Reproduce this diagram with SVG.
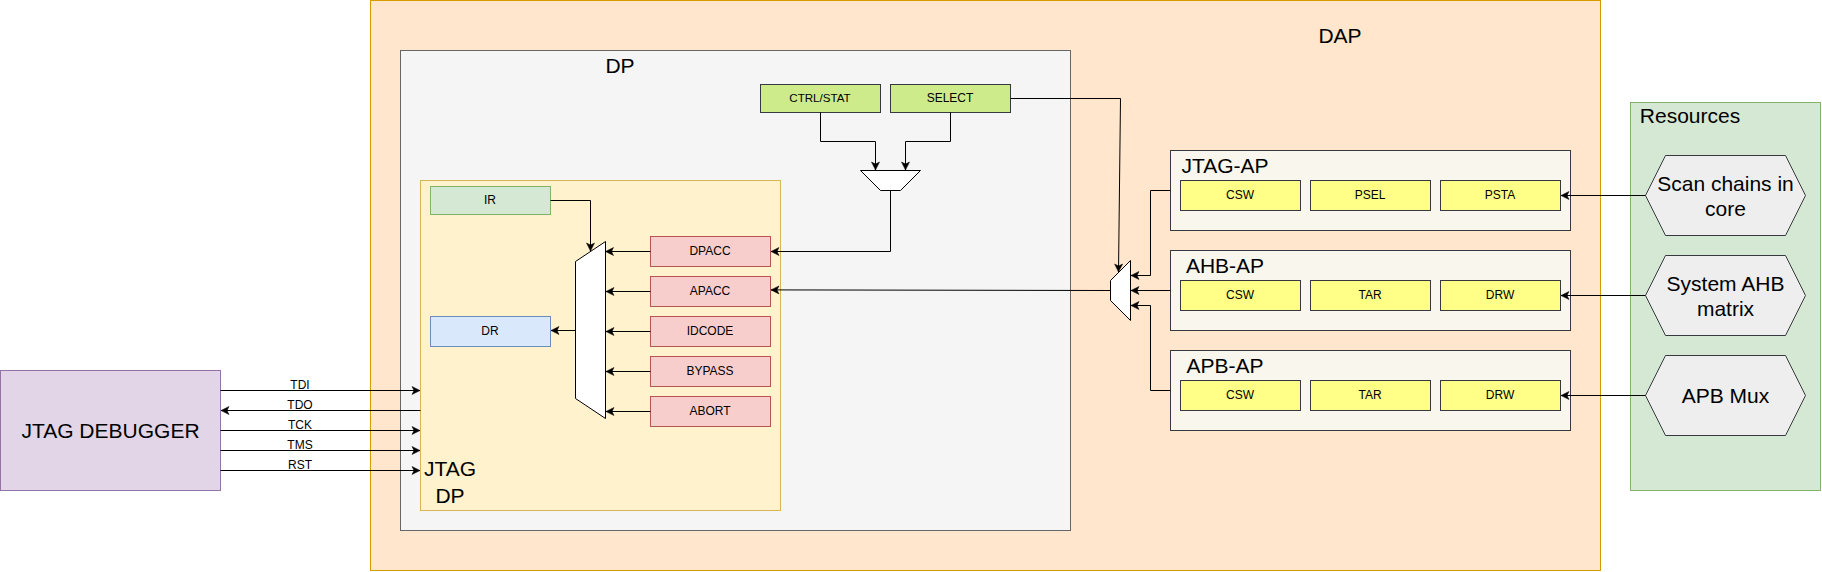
<svg xmlns="http://www.w3.org/2000/svg" width="1822" height="572" viewBox="0 0 1822 572">
<style>
text{font-family:"Liberation Sans",Arial,sans-serif;fill:#000;text-anchor:middle}
.l{font-size:21px}.s{font-size:12px}.n{font-size:11.6px}
.box{stroke-width:1}
.dap{fill:#ffe6cc;stroke:#d79b00}
.dp{fill:#f5f5f5;stroke:#666}
.jdp{fill:#fff2cc;stroke:#d6b656}
.ir{fill:#d5e8d4;stroke:#82b366}
.dr{fill:#dae8fc;stroke:#6c8ebf}
.red{fill:#f8cecc;stroke:#b85450}
.lime{fill:#cdeb8b;stroke:#36393d}
.ap{fill:#f9f7ed;stroke:#36393d}
.yel{fill:#ffff88;stroke:#36393d}
.hex{fill:#eee;stroke:#36393d}
.dbg{fill:#e1d5e7;stroke:#9673a6}
.mux{fill:#fff;stroke:#000}
.c path{fill:none;stroke:#000;stroke-width:1;marker-end:url(#a)}
</style>
<defs>
<marker id="a" markerUnits="userSpaceOnUse" markerWidth="8" markerHeight="8" refX="8" refY="4" orient="auto" overflow="visible">
<path d="M8 4L0 0L2 4L0 8Z" fill="#000" stroke="#000" stroke-width=".5"/>
</marker>
</defs>
<g id="dap"><rect class="dap" x="370.5" y="0.5" width="1230" height="570"/><text class="l" x="1340" y="42.5">DAP</text></g>
<g id="dp"><rect class="dp" x="400.5" y="50.5" width="670" height="480"/><text class="l" x="620" y="73">DP</text></g>
<g id="jtag-dp"><rect class="jdp" x="420.5" y="180.5" width="360" height="330"/><text class="l" x="450" y="476">JTAG</text><text class="l" x="450" y="503">DP</text></g>
<g id="debugger"><rect class="dbg" x="0.5" y="370.5" width="220" height="120"/><text class="l" x="110.5" y="438">JTAG DEBUGGER</text></g>
<g id="ir"><rect class="ir" x="430.5" y="186.5" width="120" height="28"/><text class="s" x="490" y="204">IR</text></g>
<g id="dr"><rect class="dr" x="430.5" y="316.5" width="120" height="30"/><text class="s" x="490" y="335">DR</text></g>
<g id="mux-main"><polygon class="mux" points="605.5,241.5 575.5,261.5 575.5,398.5 605.5,418.5"/></g>
<g id="dpacc"><rect class="red" x="650.5" y="236.5" width="120" height="30"/><text class="s" x="710" y="255">DPACC</text></g>
<g id="apacc"><rect class="red" x="650.5" y="276.5" width="120" height="30"/><text class="s" x="710" y="295">APACC</text></g>
<g id="idcode"><rect class="red" x="650.5" y="316.5" width="120" height="30"/><text class="s" x="710" y="335">IDCODE</text></g>
<g id="bypass"><rect class="red" x="650.5" y="356.5" width="120" height="30"/><text class="s" x="710" y="375">BYPASS</text></g>
<g id="abort"><rect class="red" x="650.5" y="396.5" width="120" height="30"/><text class="s" x="710" y="415">ABORT</text></g>
<g id="ctrl-stat"><rect class="lime" x="760.5" y="84.5" width="120" height="28"/><text class="n" x="820" y="102">CTRL/STAT</text></g>
<g id="select"><rect class="lime" x="890.5" y="84.5" width="120" height="28"/><text class="s" x="950" y="102">SELECT</text></g>
<g id="mux-top"><polygon class="mux" points="860.5,170.5 920.5,170.5 900.5,190.5 880.5,190.5"/></g>
<g id="mux-ap"><polygon class="mux" points="1130.5,260.5 1110.5,280.5 1110.5,300.5 1130.5,320.5"/></g>
<g id="jtag-ap"><rect class="ap" x="1170.5" y="150.5" width="400" height="80"/><text class="l" x="1225" y="173">JTAG-AP</text>
<rect class="yel" x="1180.5" y="180.5" width="120" height="30"/><text class="s" x="1240" y="199">CSW</text>
<rect class="yel" x="1310.5" y="180.5" width="120" height="30"/><text class="s" x="1370" y="199">PSEL</text>
<rect class="yel" x="1440.5" y="180.5" width="120" height="30"/><text class="s" x="1500" y="199">PSTA</text></g>
<g id="ahb-ap"><rect class="ap" x="1170.5" y="250.5" width="400" height="80"/><text class="l" x="1225" y="273">AHB-AP</text>
<rect class="yel" x="1180.5" y="280.5" width="120" height="30"/><text class="s" x="1240" y="299">CSW</text>
<rect class="yel" x="1310.5" y="280.5" width="120" height="30"/><text class="s" x="1370" y="299">TAR</text>
<rect class="yel" x="1440.5" y="280.5" width="120" height="30"/><text class="s" x="1500" y="299">DRW</text></g>
<g id="apb-ap"><rect class="ap" x="1170.5" y="350.5" width="400" height="80"/><text class="l" x="1225" y="373">APB-AP</text>
<rect class="yel" x="1180.5" y="380.5" width="120" height="30"/><text class="s" x="1240" y="399">CSW</text>
<rect class="yel" x="1310.5" y="380.5" width="120" height="30"/><text class="s" x="1370" y="399">TAR</text>
<rect class="yel" x="1440.5" y="380.5" width="120" height="30"/><text class="s" x="1500" y="399">DRW</text></g>
<g id="resources"><rect class="ir" x="1630.5" y="102.5" width="190" height="388"/><text class="l" x="1690" y="123">Resources</text></g>
<g id="scan-chains"><polygon class="hex" points="1645.5,195.5 1665.5,155.5 1785.5,155.5 1805.5,195.5 1785.5,235.5 1665.5,235.5"/><text class="l" x="1725.5" y="190.5">Scan chains in</text><text class="l" x="1725.5" y="216">core</text></g>
<g id="system-ahb"><polygon class="hex" points="1645.5,295.5 1665.5,255.5 1785.5,255.5 1805.5,295.5 1785.5,335.5 1665.5,335.5"/><text class="l" x="1725.5" y="290.5">System AHB</text><text class="l" x="1725.5" y="316">matrix</text></g>
<g id="apb-mux"><polygon class="hex" points="1645.5,395.5 1665.5,355.5 1785.5,355.5 1805.5,395.5 1785.5,435.5 1665.5,435.5"/><text class="l" x="1725.5" y="403">APB Mux</text></g>
<g id="connectors" class="c">
<path d="M220.5 390.5H420"/><path d="M420.5 410.5H221"/><path d="M220.5 430.5H420"/><path d="M220.5 450.5H420"/><path d="M220.5 470.5H420"/>
<path d="M550.5 200.5H590.5V251"/>
<path d="M575.5 330.5H551"/>
<path d="M650.5 251.5H605.5"/><path d="M650.5 291.5H606"/><path d="M650.5 331.5H606"/><path d="M650.5 371.5H606"/><path d="M650.5 411.5H606"/>
<path d="M820.5 112.5V141.5H875.5V170"/>
<path d="M950.5 112.5V141.5H905.5V170"/>
<path d="M890.5 190.5V251.5H771"/>
<path d="M1010.5 98.5H1120.5L1118.5 272"/>
<path d="M1110.5 290.5L771 289.9"/>
<path d="M1170.5 190.5H1150.5V275.5H1131"/>
<path d="M1170.5 290.5H1131"/>
<path d="M1170.5 390.5H1150.5V305.5H1131"/>
<path d="M1645.5 195.5H1561"/><path d="M1645.5 295.5H1561"/><path d="M1645.5 395.5H1561"/>
</g>
<g id="connector-labels">
<text class="s" x="300" y="389">TDI</text><text class="s" x="300" y="409">TDO</text><text class="s" x="300" y="429">TCK</text><text class="s" x="300" y="449">TMS</text><text class="s" x="300" y="469">RST</text>
</g>
</svg>
